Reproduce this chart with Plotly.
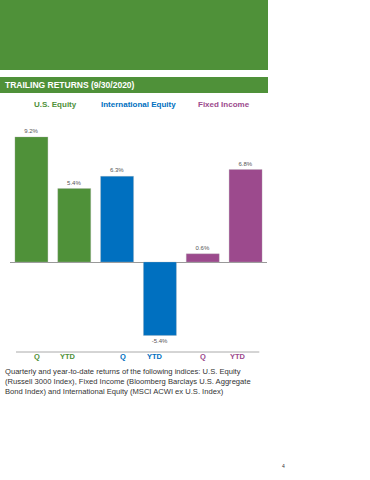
import plotly.graph_objects as go

W, H = 370, 480

categories = ["US_Q", "US_YTD", "INTL_Q", "INTL_YTD", "FI_Q", "FI_YTD"]
tick_labels = ["Q", "YTD", "Q", "YTD", "Q", "YTD"]
values = [9.2, 5.4, 6.3, -5.4, 0.6, 6.8]
value_labels = ["9.2%", "5.4%", "6.3%", "-5.4%", "0.6%", "6.8%"]
groups = ["U.S. Equity", "International Equity", "Fixed Income"]

GREEN = "#4f9139"
BLUE = "#0070c0"
PURPLE = "#9c4a8d"
group_colors = [GREEN, BLUE, PURPLE]
bar_colors = [GREEN, GREEN, BLUE, BLUE, PURPLE, PURPLE]
label_shifts = [6, -6, 6, -5, 0, -8]

# pixel helpers (margins are 0 so paper == full figure)
def px(x):
    return x / W

def py(y):
    return 1 - y / H

PLOT_L, PLOT_R, PLOT_T, PLOT_B = 10, 267, 120, 352
ZERO_Y = 262
SCALE = 13.6  # px per percent
y_top = (ZERO_Y - PLOT_T) / SCALE
y_bot = -(PLOT_B - ZERO_Y) / SCALE

fig = go.Figure()
fig.add_trace(go.Bar(
    x=categories, y=values,
    marker=dict(color=bar_colors, line=dict(color="rgba(180,180,180,0.6)", width=0.5)),
    text=value_labels, textposition="outside",
    textfont=dict(size=6, color="#555555", family="Liberation Sans"),
    cliponaxis=False, hoverinfo="skip",
))

shapes = [
    dict(type="rect", xref="paper", yref="paper", x0=px(0), x1=px(268), y0=py(70), y1=py(0),
         fillcolor=GREEN, line=dict(width=0), layer="below"),
    dict(type="rect", xref="paper", yref="paper", x0=px(0), x1=px(268), y0=py(93), y1=py(77),
         fillcolor=GREEN, line=dict(width=0), layer="below"),
    dict(type="line", xref="x", yref="paper", x0=-0.36, x1=5.32, y0=py(352), y1=py(352),
         line=dict(color="#aaaaaa", width=1)),
]

annotations = [
    dict(x=px(3), y=py(85), xref="paper", yref="paper", xanchor="left", yanchor="middle",
         text="<b>TRAILING RETURNS (9/30/2020)</b>", showarrow=False,
         font=dict(size=8.5, color="white", family="Liberation Sans")),
]
group_x = [55, 138, 224]
for g, c, gx in zip(groups, group_colors, group_x):
    annotations.append(dict(x=px(gx), y=py(104), xref="paper", yref="paper", xanchor="center",
                            yanchor="middle", text=f"<b>{g}</b>", showarrow=False,
                            font=dict(size=8, color=c, family="Liberation Sans")))
for cat, lab, c, sh in zip(categories, tick_labels, bar_colors, label_shifts):
    annotations.append(dict(x=cat, y=py(356), xref="x", yref="paper", xanchor="center",
                            yanchor="middle", text=f"<b>{lab}</b>", showarrow=False, xshift=sh,
                            font=dict(size=7.5, color=c, family="Liberation Sans")))
caption = ("Quarterly and year-to-date returns of the following indices: U.S. Equity<br>"
           "(Russell 3000 Index), Fixed Income (Bloomberg Barclays U.S. Aggregate<br>"
           "Bond Index) and International Equity (MSCI ACWI ex U.S. Index)")
annotations.append(dict(x=px(3), y=py(365), xref="paper", yref="paper", xanchor="left",
                        yanchor="top", align="left", text=caption, showarrow=False,
                        font=dict(size=7.6, color="#333333", family="Liberation Sans")))
annotations.append(dict(x=px(283), y=py(466), xref="paper", yref="paper", xanchor="center",
                        yanchor="middle", text="4", showarrow=False,
                        font=dict(size=5, color="#333333", family="Liberation Sans")))

fig.update_layout(
    width=W, height=H,
    margin=dict(l=0, r=0, t=0, b=0),
    paper_bgcolor="white", plot_bgcolor="white",
    showlegend=False, bargap=0.23,
    xaxis=dict(domain=[px(PLOT_L), px(PLOT_R)], showticklabels=False, showgrid=False,
               zeroline=False, showline=False, ticks=""),
    yaxis=dict(domain=[py(PLOT_B), py(PLOT_T)], range=[y_bot, y_top], showticklabels=False,
               showgrid=False, zeroline=True, zerolinecolor="#999999", zerolinewidth=1,
               showline=False, ticks=""),
    shapes=shapes, annotations=annotations,
)

fig.write_html("out.html", config={"displayModeBar": False},
               post_script="document.body.style.margin='0';document.body.style.overflow='hidden';")
